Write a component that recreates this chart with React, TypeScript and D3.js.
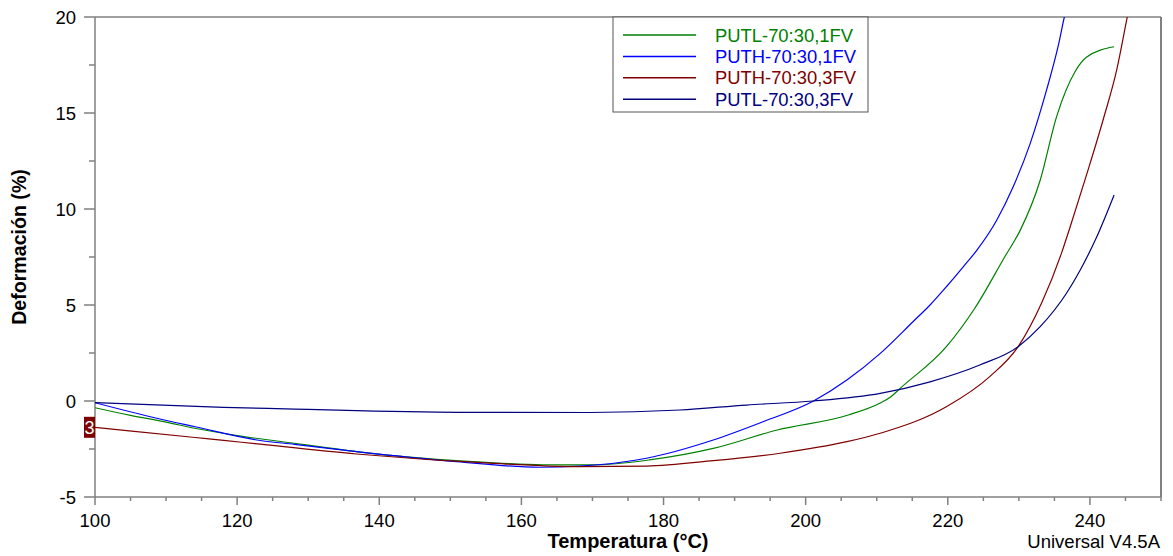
import React from "react";
import * as d3 from "d3";

const seriesNames = ["PUTL-70:30,1FV", "PUTH-70:30,1FV", "PUTH-70:30,3FV", "PUTL-70:30,3FV"];
const seriesColors = ["#008000", "#0000ff", "#800000", "#000080"];

const greenT = [100, 105, 110, 114, 120, 128, 132, 137, 146, 155, 163, 170, 178, 187, 196, 206, 210.5, 212, 213.3, 219.8, 223.8, 228, 230.2, 233, 235.3, 237.9, 239.5, 243.4];
const greenD = [-0.35, -0.75, -1.1, -1.42, -1.8, -2.2, -2.4, -2.65, -2.98, -3.2, -3.32, -3.33, -3.07, -2.47, -1.51, -0.73, -0.1, 0.22, 0.66, 2.83, 4.83, 7.5, 8.9, 11.5, 14.8, 17.15, 17.9, 18.45];

const blueT = [100, 108.7, 114.1, 122.8, 128.1, 136.8, 150.9, 162.6, 168.2, 177.6, 187, 194, 201.1, 205.8, 210.5, 215.1, 217.5, 219.8, 222.2, 224.1, 226.9, 229.2, 231.6, 233.9, 235.6, 236.4, 237.2];
const blueD = [-0.09, -0.9, -1.34, -2.03, -2.26, -2.64, -3.16, -3.45, -3.39, -2.98, -2.03, -1.08, 0, 1.09, 2.48, 4.13, 5.0, 5.95, 7.0, 7.86, 9.43, 11.16, 13.42, 16.2, 18.6, 20, 21.1];

const redT = [100, 114.1, 118.1, 122.5, 136.8, 155.6, 168.2, 177.6, 187, 196.4, 205.8, 210.5, 219.8, 225.9, 229.9, 233.2, 236, 237.2, 239.5, 241.9, 243.8, 245.2, 245.8];
const redD = [-1.37, -1.9, -2.05, -2.22, -2.76, -3.24, -3.42, -3.39, -3.11, -2.72, -2.12, -1.68, -0.3, 1.27, 2.83, 5.1, 7.7, 9.05, 11.75, 14.7, 17.3, 19.9, 21];

const navyT = [100, 118.1, 128.1, 136.8, 152.8, 169.7, 182.3, 191.7, 201.1, 210.5, 217.5, 224.5, 229.9, 233, 236.7, 238.6, 240.9, 243.4];
const navyD = [-0.08, -0.33, -0.42, -0.5, -0.59, -0.6, -0.47, -0.21, 0, 0.4, 1.0, 1.875, 2.83, 3.87, 5.61, 6.8, 8.5, 10.73];

const xTickLabels = [100, 120, 140, 160, 180, 200, 220, 240];
const yTickLabels = [-5, 0, 5, 10, 15, 20];

const W = 1173, H = 556;
const L = 95, R = 1161, T = 17, B = 497;

export default function App() {
  const x = d3.scaleLinear().domain([100, 250]).range([L, R]);
  const y = d3.scaleLinear().domain([-5, 20]).range([B, T]);
  const line = d3.line<[number, number]>().x(d => x(d[0])).y(d => y(d[1])).curve(d3.curveMonotoneX);
  const series = [
    d3.zip(greenT, greenD) as [number, number][],
    d3.zip(blueT, blueD) as [number, number][],
    d3.zip(redT, redD) as [number, number][],
    d3.zip(navyT, navyD) as [number, number][],
  ];
  const xMinor = d3.range(100, 251, 5);
  const yMinor = d3.range(-5, 20.01, 2.5);
  const axisColor = "#808080";
  const font = "'Liberation Sans', Arial, sans-serif";
  const legX = 613, legY = 17;
  return (
    <svg width={W} height={H} style={{ position: "absolute", left: 0, top: 0, background: "#fff" }} fontFamily={font}>
      <defs>
        <clipPath id="plot"><rect x={L} y={T} width={R - L} height={B - T} /></clipPath>
      </defs>
      <rect x={0} y={0} width={W} height={H} fill="#fff" />
      {/* frame */}
      <line x1={L} y1={T} x2={R} y2={T} stroke={axisColor} strokeWidth={1.5} />
      <line x1={R} y1={T} x2={R} y2={B} stroke={axisColor} strokeWidth={2} />
      <line x1={L} y1={B} x2={R} y2={B} stroke={axisColor} strokeWidth={1.5} />
      <line x1={L} y1={T} x2={L} y2={B} stroke={axisColor} strokeWidth={1.5} />
      {/* x ticks */}
      {xMinor.map(v => (
        <line key={"xt" + v} x1={x(v)} x2={x(v)} y1={B} y2={B + (v % 20 === 0 ? 8 : 4)} stroke={axisColor} strokeWidth={1.5} />
      ))}
      {xTickLabels.map(v => (
        <text key={"xl" + v} x={x(v)} y={527} fontSize={18.5} textAnchor="middle" fill="#000">{v}</text>
      ))}
      {/* y ticks */}
      {yMinor.map(v => (
        <line key={"yt" + v} x1={L - (v % 5 === 0 ? 11 : 6)} x2={L} y1={y(v)} y2={y(v)} stroke={axisColor} strokeWidth={1.5} />
      ))}
      {yTickLabels.map(v => (
        <text key={"yl" + v} x={76} y={y(v) + 6.5} fontSize={18.5} textAnchor="end" fill="#000">{v}</text>
      ))}
      {/* series */}
      <g clipPath="url(#plot)">
        {series.map((s, i) => (
          <path key={"s" + i} d={line(s) || ""} fill="none" stroke={seriesColors[i]} strokeWidth={1.2} />
        ))}
      </g>
      {/* marker 3 */}
      <rect x={84} y={y(redD[0]) - 10.5} width={11} height={21} fill="#800000" />
      <text x={89.5} y={y(redD[0]) + 6.5} fontSize={18} textAnchor="middle" fill="#fff">3</text>
      {/* legend */}
      <rect x={legX} y={legY} width={255} height={95} fill="#fff" stroke="#555" strokeWidth={1} />
      {seriesNames.map((n, i) => (
        <g key={"lg" + i}>
          <line x1={623} x2={696} y1={35 + i * 21.4} y2={35 + i * 21.4} stroke={seriesColors[i]} strokeWidth={1.5} />
          <text x={715} y={35 + i * 21.4 + 6.5} fontSize={18.4} fill={seriesColors[i]}>{n}</text>
        </g>
      ))}
      {/* axis titles */}
      <text x={(L + R) / 2} y={548} fontSize={20} fontWeight="bold" textAnchor="middle" fill="#000">Temperatura (°C)</text>
      <text transform={`translate(26, ${(T + B) / 2 - 10}) rotate(-90)`} fontSize={19.6} fontWeight="bold" textAnchor="middle" fill="#000">Deformación (%)</text>
      <text x={1160} y={548} fontSize={18.5} textAnchor="end" fill="#000">Universal V4.5A</text>
    </svg>
  );
}
